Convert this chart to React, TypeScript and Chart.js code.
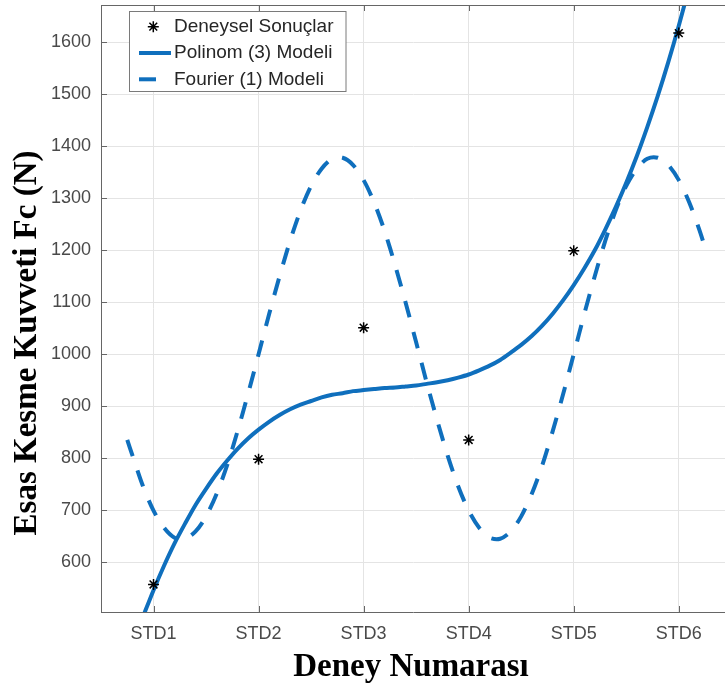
import React, { useEffect, useRef } from "react";
import { Chart, registerables } from "chart.js";

Chart.register(...registerables);

// ---- data ----
const categories = ["STD1", "STD2", "STD3", "STD4", "STD5", "STD6"];
const categoryX = [1, 2, 3, 4, 5, 6];
const experimental = [557, 798, 1051, 835, 1199, 1618];

const yTicks = [600, 700, 800, 900, 1000, 1100, 1200, 1300, 1400, 1500, 1600];

const polyX = [0.9, 1.0, 1.1, 1.2, 1.3, 1.4, 1.5, 1.6, 1.7, 1.8, 1.9, 2.0, 2.1, 2.2, 2.3, 2.4, 2.5, 2.6, 2.7, 2.8, 2.9, 3.0, 3.1, 3.2, 3.3, 3.4, 3.5, 3.6, 3.7, 3.8, 3.9, 4.0, 4.1, 4.2, 4.3, 4.4, 4.5, 4.6, 4.7, 4.8, 4.9, 5.0, 5.1, 5.2, 5.3, 5.4, 5.5, 5.6, 5.7, 5.8, 5.9, 6.0, 6.1];
const polyY = [495, 546, 593, 636, 674, 710, 741, 770, 795, 818, 838, 855, 870, 883, 894, 903, 910, 917, 922, 925, 929, 931, 933, 935, 936, 938, 940, 943, 946, 950, 955, 961, 969, 978, 989, 1003, 1018, 1035, 1055, 1078, 1104, 1133, 1165, 1200, 1240, 1283, 1330, 1381, 1437, 1497, 1562, 1632, 1707];

const fourierX = [0.75, 0.8, 0.9, 1.0, 1.1, 1.2, 1.3, 1.4, 1.5, 1.6, 1.7, 1.8, 1.9, 2.0, 2.1, 2.2, 2.3, 2.4, 2.5, 2.6, 2.7, 2.8, 2.9, 3.0, 3.1, 3.2, 3.3, 3.4, 3.5, 3.6, 3.7, 3.8, 3.9, 4.0, 4.1, 4.2, 4.3, 4.4, 4.5, 4.6, 4.7, 4.8, 4.9, 5.0, 5.1, 5.2, 5.3, 5.4, 5.5, 5.6, 5.7, 5.8, 5.9, 6.0, 6.1, 6.2, 6.25];
const fourierY = [835, 805, 746, 699, 666, 647, 645, 659, 688, 731, 786, 852, 924, 1000, 1077, 1150, 1218, 1277, 1324, 1357, 1376, 1378, 1364, 1335, 1292, 1237, 1171, 1099, 1023, 946, 873, 805, 746, 699, 666, 647, 645, 659, 688, 731, 786, 852, 924, 1000, 1077, 1150, 1218, 1277, 1324, 1357, 1376, 1378, 1364, 1335, 1292, 1237, 1205];

const legendLabels = ["Deneysel Sonuçlar", "Polinom (3) Modeli", "Fourier (1) Modeli"];
const xTitle = "Deney Numarası";
const yTitle = "Esas Kesme Kuvveti Fc (N)";

const BLUE = "#0f6fbd";
const AXIS = "#666666";
const SANS = '"Liberation Sans", Arial, sans-serif';
const SERIF = '"Liberation Serif", "Times New Roman", serif';

function drawAsterisk(ctx: CanvasRenderingContext2D, x: number, y: number, r: number) {
  ctx.save();
  ctx.strokeStyle = "#000";
  ctx.lineWidth = 1.5;
  ctx.beginPath();
  for (let k = 0; k < 4; k++) {
    const a = (k * Math.PI) / 4;
    ctx.moveTo(x - r * Math.cos(a), y - r * Math.sin(a));
    ctx.lineTo(x + r * Math.cos(a), y + r * Math.sin(a));
  }
  ctx.stroke();
  ctx.restore();
}

const decorPlugin = {
  id: "decor",
  afterDraw(chart: any) {
    const ctx = chart.ctx as CanvasRenderingContext2D;
    const area = chart.chartArea;
    const xs = chart.scales.x;
    const ys = chart.scales.y;
    ctx.save();
    // top border
    ctx.strokeStyle = AXIS;
    ctx.lineWidth = 1;
    ctx.beginPath();
    ctx.moveTo(area.left, Math.round(area.top) + 0.5);
    ctx.lineTo(area.right, Math.round(area.top) + 0.5);
    ctx.stroke();
    // inside ticks
    ctx.beginPath();
    categoryX.forEach((v) => {
      const px = Math.round(xs.getPixelForValue(v)) + 0.5;
      ctx.moveTo(px, area.bottom);
      ctx.lineTo(px, area.bottom - 6);
      ctx.moveTo(px, area.top);
      ctx.lineTo(px, area.top + 6);
    });
    yTicks.forEach((v) => {
      const py = Math.round(ys.getPixelForValue(v)) + 0.5;
      ctx.moveTo(area.left, py);
      ctx.lineTo(area.left + 6, py);
    });
    ctx.stroke();

    // legend
    const bx = 129.5, by = 11.5, bw = 216.5, bh = 80;
    ctx.fillStyle = "#ffffff";
    ctx.fillRect(bx, by, bw, bh);
    ctx.strokeStyle = "#7a7a7a";
    ctx.lineWidth = 1;
    ctx.strokeRect(bx, by, bw, bh);
    const rows = [26.7, 53, 79.3];
    drawAsterisk(ctx, 153.3, rows[0], 5.5);
    // solid
    ctx.strokeStyle = BLUE;
    ctx.lineWidth = 4;
    ctx.lineCap = "butt";
    ctx.setLineDash([]);
    ctx.beginPath();
    ctx.moveTo(139, rows[1]);
    ctx.lineTo(171, rows[1]);
    ctx.stroke();
    // dashed
    ctx.setLineDash([17, 15]);
    ctx.beginPath();
    ctx.moveTo(139, rows[2]);
    ctx.lineTo(171, rows[2]);
    ctx.stroke();
    ctx.setLineDash([]);
    ctx.fillStyle = "#262626";
    ctx.font = `19px ${SANS}`;
    ctx.textAlign = "left";
    ctx.textBaseline = "middle";
    legendLabels.forEach((t, i) => ctx.fillText(t, 174, rows[i]));

    // axis titles
    ctx.fillStyle = "#000000";
    ctx.font = `bold 33px ${SERIF}`;
    ctx.textAlign = "center";
    ctx.textBaseline = "alphabetic";
    ctx.fillText(xTitle, 411, 676);
    ctx.translate(36, 343);
    ctx.rotate(-Math.PI / 2);
    ctx.fillText(yTitle, 0, 0);
    ctx.restore();
  },
};

export default function App() {
  const ref = useRef<HTMLCanvasElement | null>(null);
  useEffect(() => {
    if (!ref.current) return;
    const chart = new Chart(ref.current, {
      type: "line",
      data: {
        datasets: [
          {
            label: legendLabels[0],
            data: categoryX.map((x, i) => ({ x, y: experimental[i] })),
            showLine: false,
            pointStyle: "star",
            pointRadius: 5.5,
            pointBorderWidth: 1.5,
            borderColor: "#000000",
            backgroundColor: "#000000",
            order: 0,
          },
          {
            label: legendLabels[1],
            data: polyX.map((x, i) => ({ x, y: polyY[i] })),
            borderColor: BLUE,
            borderWidth: 4,
            pointRadius: 0,
            tension: 0.3,
            clip: 0,
            order: 1,
          },
          {
            label: legendLabels[2],
            data: fourierX.map((x, i) => ({ x, y: fourierY[i] })),
            borderColor: BLUE,
            borderWidth: 4,
            borderDash: [17, 15],
            pointRadius: 0,
            tension: 0.3,
            clip: 0,
            order: 2,
          },
        ] as any,
      },
      options: {
        responsive: false,
        animation: false,
        devicePixelRatio: 1,
        layout: { autoPadding: false, padding: { top: 5, left: 0, right: 0, bottom: 0 } },
        plugins: { legend: { display: false }, tooltip: { enabled: false } },
        scales: {
          x: {
            type: "linear",
            min: 0.5,
            max: 6.44,
            afterFit: (s: any) => {
              s.height = 73;
              s.paddingLeft = 0;
              s.paddingRight = 0;
              s.paddingTop = 0;
              s.paddingBottom = 0;
            },
            afterBuildTicks: (s: any) => {
              s.ticks = categoryX.map((v) => ({ value: v }));
            },
            ticks: {
              callback: (v: any) => categories[Math.round(Number(v)) - 1] ?? "",
              color: "#4a4a4a",
              font: { family: SANS, size: 18 },
              padding: 11,
              maxRotation: 0,
              autoSkip: false,
            },
            grid: { color: "#e4e4e4", lineWidth: 1, drawTicks: false },
            border: { display: true, color: AXIS, width: 1 },
          },
          y: {
            type: "linear",
            min: 504,
            max: 1672,
            afterFit: (s: any) => {
              s.width = 101;
              s.paddingLeft = 0;
              s.paddingRight = 0;
              s.paddingTop = 0;
              s.paddingBottom = 0;
            },
            afterBuildTicks: (s: any) => {
              s.ticks = yTicks.map((v) => ({ value: v }));
            },
            ticks: {
              callback: (v: any) => String(v),
              color: "#4a4a4a",
              font: { family: SANS, size: 18 },
              padding: 10,
              autoSkip: false,
            },
            grid: { color: "#e4e4e4", lineWidth: 1, drawTicks: false },
            border: { display: true, color: AXIS, width: 1 },
          },
        },
      } as any,
      plugins: [decorPlugin],
    });
    return () => chart.destroy();
  }, []);
  return (
    <div style={{ position: "absolute", left: 0, top: 0, width: 725, height: 685, background: "#fff" }}>
      <canvas ref={ref} width={725} height={685} style={{ display: "block" }} />
    </div>
  );
}
